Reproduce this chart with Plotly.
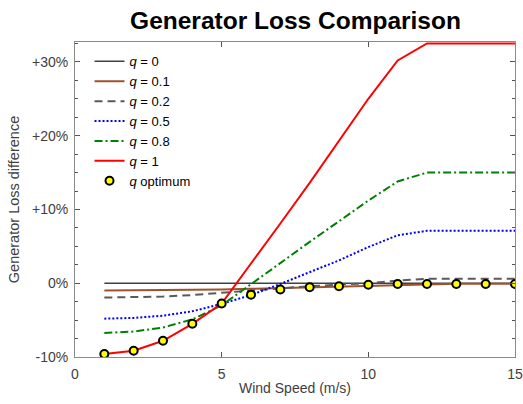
import plotly.graph_objects as go

wind = [1, 2, 3, 4, 5, 6, 7, 8, 9, 10, 11, 12, 13, 14, 15]
q0 = [0, 0, 0, 0, 0, 0, 0, 0, 0, 0, 0, 0, 0, 0, 0]
q01 = [-1.0, -0.98, -0.95, -0.9, -0.85, -0.75, -0.65, -0.55, -0.45, -0.35, -0.2, -0.1, -0.08, -0.08, -0.08]
q02 = [-1.95, -1.9, -1.8, -1.6, -1.3, -0.9, -0.6, -0.4, -0.2, 0.0, 0.35, 0.6, 0.6, 0.6, 0.6]
q05 = [-4.8, -4.7, -4.4, -3.8, -2.8, -1.6, -0.1, 1.5, 3.1, 4.9, 6.5, 7.1, 7.1, 7.1, 7.1]
q08 = [-6.75, -6.55, -6.0, -4.9, -3.0, -0.1, 2.8, 5.6, 8.4, 11.2, 13.8, 15.0, 15.0, 15.0, 15.0]
q1 = [-9.6, -9.15, -7.8, -5.5, -2.75, 2.6, 8.1, 13.6, 19.3, 25.0, 30.2, 32.5, 32.5, 32.5, 32.5]
qopt = [-9.6, -9.15, -7.8, -5.5, -2.75, -1.55, -0.85, -0.55, -0.4, -0.2, -0.1, -0.1, -0.1, -0.1, -0.1]

series = [
    ("<i>q</i> = 0", q0, "#404040", "solid", 1.5),
    ("<i>q</i> = 0.1", q01, "#A0522D", "solid", 2),
    ("<i>q</i> = 0.2", q02, "#5A5A5A", "8px,5px", 2),
    ("<i>q</i> = 0.5", q05, "#0000FF", "2px,2px", 2),
    ("<i>q</i> = 0.8", q08, "#008000", "8px,3px,2px,3px", 2),
    ("<i>q</i> = 1", q1, "#FF0000", "solid", 2),
]

fig = go.Figure()
for name, ys, color, dash, w in series:
    fig.add_trace(go.Scatter(x=wind, y=ys, mode="lines", name=name,
                             line=dict(color=color, dash=dash, width=w)))
fig.add_trace(go.Scatter(x=wind, y=qopt, mode="markers", name="<i>q</i> optimum",
                         marker=dict(color="#FFFF00", size=8,
                                     line=dict(color="black", width=2))))

axis_common = dict(showline=True, linecolor="#8a8a8a", linewidth=1, mirror="allticks",
                   ticks="inside", ticklen=5, tickcolor="#555555", showgrid=False,
                   zeroline=False, automargin=False,
                   tickfont=dict(size=14, color="#404040"))

fig.update_layout(
    width=523, height=404,
    margin=dict(l=75, r=8, t=42, b=47),
    paper_bgcolor="white", plot_bgcolor="white",
    font=dict(family="Liberation Sans, Arial, sans-serif", color="#262626"),
    title=dict(text="<b>Generator Loss Comparison</b>", x=0.565, xanchor="center",
               y=0.95, yanchor="middle", font=dict(size=24.5, color="black")),
    xaxis=dict(range=[0, 15], dtick=5, tick0=0, ticklabelstandoff=4,
               title=dict(text="Wind Speed (m/s)", font=dict(size=14, color="#404040"), standoff=2),
               **axis_common),
    yaxis=dict(range=[-10, 32.7], tickvals=[-10, 0, 10, 20, 30],
               ticktext=["-10%", "0%", "+10%", "+20%", "+30%"], ticklabelstandoff=3,
               title=dict(text="Generator Loss difference", font=dict(size=14.5, color="#404040"), standoff=8),
               minor=dict(dtick=2.5, tick0=0, ticks="inside", ticklen=3, tickcolor="#555555"),
               **axis_common),
    legend=dict(x=0.033, y=0.986, xanchor="left", yanchor="top",
                bgcolor="rgba(255,255,255,0)", font=dict(size=13, color="black"),
                tracegroupgap=0, itemwidth=30),
    showlegend=True,
)

fig.write_html("out.html", config={"displayModeBar": False},
               post_script="document.body.style.margin='0';")
